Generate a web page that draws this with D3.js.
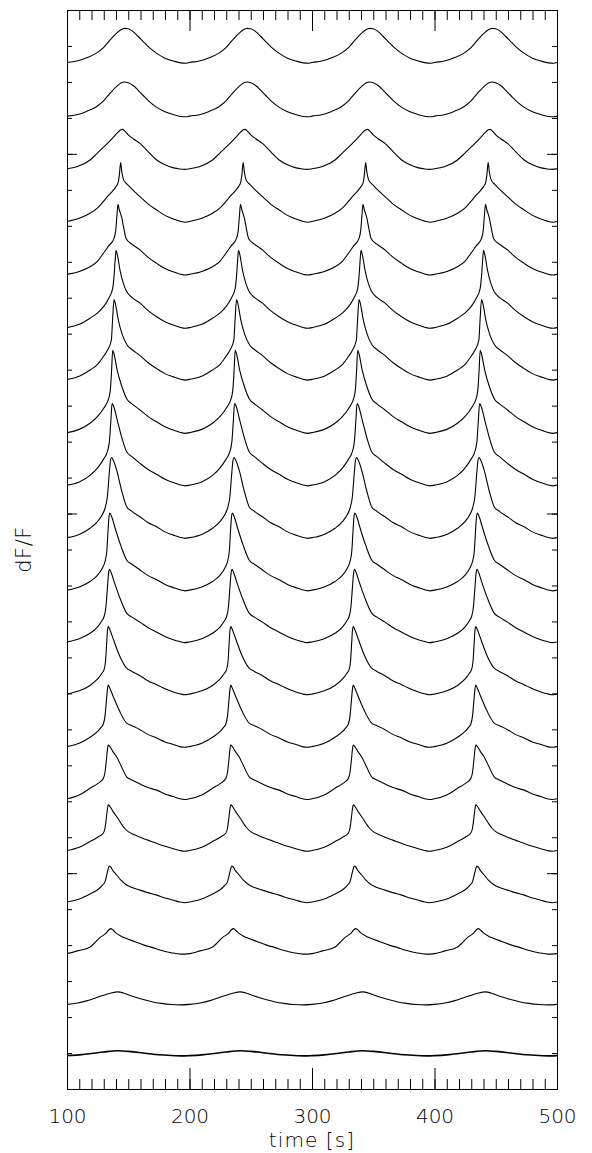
<!DOCTYPE html>
<html><head><meta charset="utf-8">
<script src="https://cdn.jsdelivr.net/npm/d3@7"></script>
<style>
body{margin:0;background:#fff}
svg{display:block}
text{font-family:"DejaVu Sans",sans-serif;font-weight:200;fill:#000}
</style>
</head><body>
<svg id="chart" width="592" height="1153"></svg>
<script>
// ---------- axis data ----------
const timeDomain = [100, 500];
const dffDomain = [-60, 240];          // dF/F in percent (unlabelled axis)
const xMajorTicks = [100, 200, 300, 400, 500];
const xTickLabels = ["100", "200", "300", "400", "500"];
const yMajorTicks = [0, 100, 200];
const xLabel = "time [s]";
const yLabel = "dF/F";

// start time of each ~100 s oscillation cycle
const cycleStarts = [100, 200, 300, 400];

// vertical offset (minimum level) of each trace, top to bottom
const curveOffsets = [225.2, 210.3, 195.7, 181.0, 166.3, 151.5, 137.1, 122.3, 107.7, 93.1,
                      78.5, 64.1, 49.6, 35.0, 20.5, 6.1, -8.2, -22.5, -36.6, -50.8];

// one cycle of each trace: phase within cycle [s] and dF/F above its minimum [%]
const phase01 = [0, 8, 16, 24, 30, 36, 41, 44, 47, 50, 54, 58, 62, 67, 73, 80, 87, 93, 97.5, 100];
const dff01   = [0.2, 0.6, 1.5, 2.8, 4.4, 6.8, 8.5, 9.3, 9.7, 9.6, 8.8, 7.5, 6.1, 4.4, 2.8, 1.4, 0.6, 0.1, 0, 0.2];
const phase02 = [0, 8, 16, 24, 30, 36, 41, 44, 47, 50, 54, 58, 62, 67, 73, 80, 87, 93, 97.5, 100];
const dff02   = [0.2, 0.6, 1.5, 2.8, 4.5, 6.9, 8.6, 9.4, 9.7, 9.5, 8.7, 7.4, 6.0, 4.3, 2.7, 1.4, 0.6, 0.1, 0, 0.2];
const phase03 = [0, 8, 18.8, 25, 32.4, 37, 41.9, 44, 45.5, 47, 50, 54, 59.6, 66, 73.2, 80, 87, 92, 96, 100];
const dff03   = [0.14, 0.7, 2.6, 4.6, 7.0, 8.6, 10.4, 11.0, 11.1, 10.7, 9.6, 8.5, 7.2, 5.0, 2.6, 1.25, 0.4, 0.1, 0, 0.14];
const phase04 = [0, 10, 18.8, 25, 29.6, 34, 38, 40, 41.8, 42.8, 43.8, 44.8, 46, 47.5, 49, 53, 59.6, 66, 73.2, 80, 86.8, 92, 97, 100];
const dff04   = [0.2, 1.1, 2.5, 4.0, 5.7, 7.5, 9.0, 9.9, 11.1, 13.3, 16.6, 13.9, 12.0, 11.1, 10.6, 9.2, 7.1, 5.1, 3.4, 1.9, 0.9, 0.3, 0, 0.2];
const phase05 = [0, 10, 18.8, 25, 29.6, 34, 38.4, 39.8, 40.8, 41.6, 42.6, 44.6, 46.5, 48.2, 53, 59.6, 66, 73.2, 80, 86.8, 92, 96.5, 100];
const dff05   = [0.2, 1.0, 2.3, 3.9, 6.0, 8.1, 10.2, 12.5, 16.7, 19.7, 18.3, 16.1, 12.8, 10.2, 8.6, 7.0, 5.0, 3.25, 1.8, 0.9, 0.3, 0, 0.2];
const phase06 = [0, 10, 18.8, 25, 30, 34, 37.3, 38.4, 39.3, 40, 41, 43.3, 46, 48.7, 53, 59.6, 66, 73.2, 80, 86.8, 92, 96.5, 100];
const dff06   = [0.2, 1.1, 2.8, 4.3, 6.1, 8.3, 11.1, 14.5, 18.9, 21.7, 20.6, 16.1, 12.5, 10.2, 8.6, 7.0, 5.0, 3.2, 1.8, 0.9, 0.3, 0, 0.2];
const phase07 = [0, 10, 18.8, 25, 30, 33, 36.2, 37.2, 38.4, 39.4, 41.9, 45, 49.2, 53, 59.6, 66, 73.2, 80, 86.8, 92, 96.5, 100];
const dff07   = [0.2, 1.1, 2.8, 4.4, 6.7, 8.3, 11.1, 16.7, 22.4, 21.4, 16.7, 12.8, 9.7, 8.5, 6.8, 4.9, 3.2, 1.8, 0.9, 0.3, 0, 0.2];
const phase08 = [0, 10, 18.8, 25, 30, 34.3, 35.5, 36.5, 37.3, 38.3, 41, 45, 49, 53, 59.6, 66, 73.2, 80, 86.8, 92, 96.5, 100];
const dff08   = [0.2, 1.1, 2.8, 4.7, 7.0, 10.0, 12.5, 18.1, 23.1, 22.2, 17.5, 12.8, 9.45, 8.2, 6.5, 4.7, 3.2, 1.8, 0.9, 0.3, 0, 0.2];
const phase09 = [0, 10, 18.8, 25, 30, 32.4, 34.5, 35.8, 36.8, 38, 41, 45, 48.7, 53, 59.6, 66, 73.2, 80, 86.8, 92, 96.3, 100];
const dff09   = [0.2, 1.1, 2.9, 5.0, 7.5, 9.0, 12.0, 18.1, 22.9, 22.2, 18.3, 13.1, 9.45, 8.1, 6.25, 4.6, 3.2, 1.8, 0.9, 0.3, 0, 0.2];
const phase10 = [0, 10, 18.8, 25, 29, 31, 33, 34.5, 35.5, 36.4, 37.8, 40.6, 44.6, 48.7, 53, 59.6, 66, 73.2, 80, 86.8, 92, 96.3, 100];
const dff10   = [0.2, 1.1, 2.8, 4.7, 6.7, 8.3, 11.7, 18.1, 21.7, 22.5, 21.7, 18.9, 13.3, 8.8, 7.5, 6.0, 4.4, 3.2, 1.8, 0.9, 0.3, 0, 0.2];
const phase11 = [0, 10, 18.8, 25, 29, 31, 32.5, 33.5, 34.3, 35.1, 36.5, 39.5, 44, 48.7, 53, 59.6, 66, 73.2, 80, 86.8, 92, 96.3, 100];
const dff11   = [0.2, 1.1, 2.6, 4.4, 6.4, 8.1, 11.1, 16.7, 20.6, 21.6, 20.6, 17.2, 12.5, 8.6, 7.4, 5.8, 4.3, 3.1, 1.8, 0.9, 0.3, 0, 0.2];
const phase12 = [0, 10, 18.8, 25, 28.5, 30.2, 31.8, 33, 33.9, 34.7, 36, 39, 44, 48.7, 53, 59.6, 66, 73.2, 80, 86.8, 92, 96, 100];
const dff12   = [0.2, 1.1, 2.6, 4.4, 6.1, 7.2, 10.0, 15.3, 19.2, 20.4, 19.5, 16.4, 11.7, 8.2, 7.1, 5.7, 4.2, 2.9, 1.7, 0.8, 0.3, 0, 0.2];
const phase13 = [0, 10, 18.8, 25, 28.5, 30.2, 31.5, 32.4, 33, 33.7, 35, 38, 43, 48.7, 53, 59.6, 66, 73.2, 80, 86.8, 92, 96, 100];
const dff13   = [0.2, 1.1, 2.6, 4.4, 6.0, 6.95, 9.45, 14.5, 17.8, 19.0, 18.1, 15.3, 10.8, 7.4, 6.5, 5.3, 3.9, 2.8, 1.7, 0.8, 0.3, 0, 0.2];
const phase14 = [0, 10, 18.8, 25, 28, 29.6, 31, 32.2, 33, 33.7, 35, 38, 43, 48.7, 53, 59.6, 66, 73.2, 80, 86.8, 92, 96, 100];
const dff14   = [0.2, 1.1, 2.8, 4.4, 5.6, 6.4, 8.6, 13.1, 16.1, 17.3, 16.4, 13.9, 10.0, 6.7, 6.0, 4.9, 3.6, 2.6, 1.5, 0.8, 0.2, 0, 0.2];
const phase15 = [0, 10, 18.8, 25, 29.6, 31, 32.2, 33, 33.7, 35, 37.5, 40.6, 44, 48.7, 53, 59.6, 66, 73.2, 80, 86.8, 92, 96, 100];
const dff15   = [0.2, 1.25, 3.1, 4.4, 5.8, 7.5, 11.1, 13.9, 15.1, 14.7, 13.3, 11.8, 9.45, 6.3, 5.4, 4.3, 3.3, 2.6, 1.5, 0.8, 0.2, 0, 0.2];
const phase16 = [0, 10, 18.8, 25, 29.6, 31, 32.2, 33, 33.7, 35, 37.5, 40.6, 44, 47, 50, 54, 59.6, 66, 73.2, 80, 86.8, 92, 96, 100];
const dff16   = [0.2, 1.1, 2.7, 3.9, 5.0, 6.4, 9.45, 11.7, 12.9, 12.5, 11.1, 9.6, 7.8, 6.4, 5.45, 4.7, 3.9, 3.1, 2.2, 1.4, 0.7, 0.2, 0, 0.2];
const phase17 = [0, 10, 18.8, 25, 29, 31, 32.5, 33.7, 34.5, 35.5, 37.5, 40.6, 44, 48.7, 53, 59.6, 66, 73.2, 80, 86.8, 92, 96, 100];
const dff17   = [0.2, 1.0, 2.4, 3.6, 4.9, 5.8, 7.8, 9.45, 10.2, 10.0, 8.9, 7.7, 6.25, 4.9, 4.2, 3.5, 2.8, 2.1, 1.3, 0.7, 0.2, 0, 0.2];
const phase18 = [0, 8.6, 18.8, 27.6, 31.7, 34, 35.8, 37.5, 39.9, 44, 48, 55, 63, 70, 76.6, 85, 93, 100];
const dff18   = [0.14, 0.9, 2.0, 4.8, 5.75, 6.7, 7.1, 6.7, 5.9, 5.0, 4.4, 3.5, 2.5, 1.8, 1.1, 0.4, 0, 0.14];
const phase19 = [0, 8.6, 16, 24.9, 32, 36, 41.5, 46, 50, 56, 63, 70, 77, 85, 93, 100];
const dff19   = [0.14, 0.5, 1.1, 2.1, 2.9, 3.3, 3.6, 3.3, 2.8, 2.1, 1.4, 0.8, 0.4, 0.1, 0, 0.14];
const phase20 = [0, 10, 20, 30, 41.5, 52, 62, 72, 82, 95, 100];
const dff20   = [0.08, 0.3, 0.65, 1.1, 1.45, 1.2, 0.8, 0.4, 0.2, 0, 0.08];

const traces = [
  [phase01, dff01], [phase02, dff02], [phase03, dff03], [phase04, dff04], [phase05, dff05],
  [phase06, dff06], [phase07, dff07], [phase08, dff08], [phase09, dff09], [phase10, dff10],
  [phase11, dff11], [phase12, dff12], [phase13, dff13], [phase14, dff14], [phase15, dff15],
  [phase16, dff16], [phase17, dff17], [phase18, dff18], [phase19, dff19], [phase20, dff20]
];

// ---------- drawing ----------
const plot = {left: 67, right: 557, top: 10, bottom: 1089};
const svg = d3.select("#chart");

const x = d3.scaleLinear().domain(timeDomain).range([plot.left, plot.right]);
const y = d3.scaleLinear().domain(dffDomain).range([plot.bottom, plot.top]);

svg.append("clipPath").attr("id", "clip")
  .append("rect").attr("x", plot.left).attr("y", plot.top)
  .attr("width", plot.right - plot.left).attr("height", plot.bottom - plot.top);

const line = d3.line().x(d => x(d[0])).y(d => y(d[1])).curve(d3.curveMonotoneX);

const gCurves = svg.append("g").attr("clip-path", "url(#clip)");
traces.forEach(([ph, vals], k) => {
  const pts = [];
  cycleStarts.forEach((c, j) => {
    ph.forEach((p, i) => {
      if (j > 0 && i === 0) return;
      pts.push([c + p, curveOffsets[k] + vals[i]]);
    });
  });
  gCurves.append("path")
    .attr("d", line(pts))
    .attr("fill", "none")
    .attr("stroke", "#000")
    .attr("stroke-width", k === traces.length - 1 ? 1.6 : 1.1)
    .attr("stroke-linejoin", "round");
});

// axes (ticks point inward)
const xMinor = x.ticks(40);
const yMinor = y.ticks(30);
function styleAxis(g) {
  g.select(".domain").remove();
  g.selectAll(".tick line").attr("stroke", "#000");
}
svg.append("g").attr("transform", `translate(0,${plot.bottom})`)
  .call(d3.axisBottom(x).tickValues(xMinor).tickSize(-10).tickFormat("")).call(styleAxis);
svg.append("g").attr("transform", `translate(0,${plot.bottom})`)
  .call(d3.axisBottom(x).tickValues(xMajorTicks).tickSize(-21).tickPadding(20)
    .tickFormat((d, i) => xTickLabels[i])).call(styleAxis)
  .selectAll("text").attr("font-size", 20).attr("fill", "#000")
  .attr("font-family", "DejaVu Sans, sans-serif").attr("font-weight", 200);
svg.append("g").attr("transform", `translate(0,${plot.top})`)
  .call(d3.axisTop(x).tickValues(xMinor).tickSize(-10).tickFormat("")).call(styleAxis);
svg.append("g").attr("transform", `translate(0,${plot.top})`)
  .call(d3.axisTop(x).tickValues(xMajorTicks).tickSize(-21).tickFormat("")).call(styleAxis);
svg.append("g").attr("transform", `translate(${plot.left},0)`)
  .call(d3.axisLeft(y).tickValues(yMinor).tickSize(-5).tickFormat("")).call(styleAxis);
svg.append("g").attr("transform", `translate(${plot.left},0)`)
  .call(d3.axisLeft(y).tickValues(yMajorTicks).tickSize(-10).tickFormat("")).call(styleAxis);
svg.append("g").attr("transform", `translate(${plot.right},0)`)
  .call(d3.axisRight(y).tickValues(yMinor).tickSize(-5).tickFormat("")).call(styleAxis);
svg.append("g").attr("transform", `translate(${plot.right},0)`)
  .call(d3.axisRight(y).tickValues(yMajorTicks).tickSize(-10).tickFormat("")).call(styleAxis);

// frame
svg.append("rect")
  .attr("x", plot.left + 0.5).attr("y", plot.top + 0.5)
  .attr("width", plot.right - plot.left).attr("height", plot.bottom - plot.top)
  .attr("fill", "none").attr("stroke", "#000").attr("stroke-width", 1);

// axis titles
svg.append("text").attr("x", (plot.left + plot.right) / 2).attr("y", 1147)
  .attr("text-anchor", "middle").attr("font-size", 20).attr("letter-spacing", 1.1)
  .attr("fill", "#000").text(xLabel);
svg.append("text").attr("transform", `translate(31,${(plot.top + plot.bottom) / 2}) rotate(-90)`)
  .attr("text-anchor", "middle").attr("font-size", 21).attr("letter-spacing", 0.5)
  .attr("fill", "#000").text(yLabel);
</script>
</body></html>
